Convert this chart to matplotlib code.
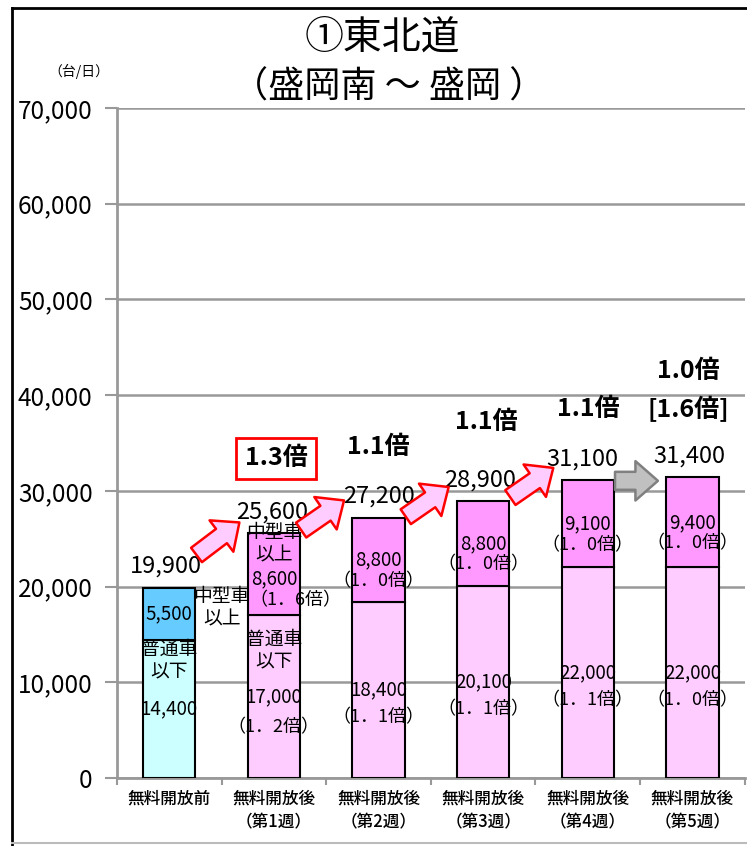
import matplotlib.pyplot as plt
from matplotlib.lines import Line2D

plt.rcParams['font.family'] = ['Noto Sans CJK JP', 'DejaVu Sans']

# data
categories = ['無料開放前', '無料開放後\n（第1週）', '無料開放後\n（第2週）',
              '無料開放後\n（第3週）', '無料開放後\n（第4週）', '無料開放後\n（第5週）']
small_cars = [14400, 17000, 18400, 20100, 22000, 22000]   # 普通車以下
large_cars = [5500, 8600, 8800, 8800, 9100, 9400]         # 中型車以上
totals = [19900, 25600, 27200, 28900, 31100, 31400]
small_ratio = ['', '（1．2倍）', '（1．1倍）', '（1．1倍）', '（1．1倍）', '（1．0倍）']
large_ratio = ['', '（1．6倍）', '（1．0倍）', '（1．0倍）', '（1．0倍）', '（1．0倍）']
total_ratio = ['', '1.3倍', '1.1倍', '1.1倍', '1.1倍', '1.0倍\n[1.6倍]']

small_colors = ['#CCFFFF'] + ['#FFCCFF'] * 5
large_colors = ['#66CCFF'] + ['#FF99FF'] * 5

fig = plt.figure(figsize=(7.47, 8.46), dpi=100)
ax = fig.add_axes([0.1566, 0.0804, 0.8404, 0.7919])

x = list(range(len(categories)))
ax.bar(x, small_cars, width=0.5, color=small_colors, edgecolor='black', linewidth=1.5, zorder=3)
ax.bar(x, large_cars, width=0.5, bottom=small_cars, color=large_colors,
       edgecolor='black', linewidth=1.5, zorder=3)

ax.set_xlim(-0.5, len(categories) - 0.5)
ax.set_ylim(0, 70000)
ax.set_yticks(range(0, 70001, 10000))
ax.set_yticklabels([f'{v:,}' for v in range(0, 70001, 10000)], fontsize=17.5)
ax.set_xticks(x)
ax.set_xticklabels(categories, fontsize=12, linespacing=1.45, fontweight='medium')
ax.tick_params(axis='x', length=0, pad=8)
ax.tick_params(axis='y', length=8.5, width=1.5, color='#999999', pad=9)
ax.set_xticks([i - 0.5 for i in range(len(categories) + 1)], minor=True)
ax.tick_params(axis='x', which='minor', length=5, width=1.5, color='#999999')
ax.grid(axis='y', color='#999999', linewidth=1.8, zorder=0)
for s in ['top', 'right']:
    ax.spines[s].set_visible(False)
for s in ['left', 'bottom']:
    ax.spines[s].set_color('#999999')
    ax.spines[s].set_linewidth(2)

# in-bar labels
fs_num = 13.5
fs_rat = 13
for i in x:
    mid_s = small_cars[i] / 2
    mid_l = small_cars[i] + large_cars[i] / 2
    if i == 0:
        ax.text(i, mid_s + 5100, '普通車\n以下', ha='center', va='center', fontsize=fs_num, linespacing=1.1, zorder=5)
        ax.text(i, mid_s, f'{small_cars[i]:,}', ha='center', va='center', fontsize=fs_num, zorder=5)
        ax.text(i, mid_l, f'{large_cars[i]:,}', ha='center', va='center', fontsize=fs_num, zorder=5)
        ax.text(i + 0.5, mid_l + 650, '中型車\n以上', ha='center', va='center', fontsize=fs_num, linespacing=1.1, zorder=5)
    elif i == 1:
        ax.text(i, mid_s + 4800, '普通車\n以下', ha='center', va='center', fontsize=fs_num, linespacing=1.1, zorder=5)
        ax.text(i, mid_s, f'{small_cars[i]:,}', ha='center', va='center', fontsize=fs_num, zorder=5)
        ax.text(i, mid_s - 3200, small_ratio[i], ha='center', va='center', fontsize=fs_rat, zorder=5)
        ax.text(i, mid_l + 3200, '中型車\n以上', ha='center', va='center', fontsize=fs_num, linespacing=1.1, zorder=5)
        ax.text(i, mid_l - 450, f'{large_cars[i]:,}', ha='center', va='center', fontsize=fs_num, zorder=5)
        ax.text(i + 0.21, mid_l - 2750, large_ratio[i], ha='center', va='center', fontsize=fs_rat, zorder=5)
    else:
        ax.text(i, mid_s, f'{small_cars[i]:,}', ha='center', va='center', fontsize=fs_num, zorder=5)
        ax.text(i, mid_s - 2900, small_ratio[i], ha='center', va='center', fontsize=fs_rat, zorder=5)
        ax.text(i, mid_l, f'{large_cars[i]:,}', ha='center', va='center', fontsize=fs_num, zorder=5)
        ax.text(i, mid_l - 2200, large_ratio[i], ha='center', va='center', fontsize=fs_rat, zorder=5)

# totals and growth ratios
total_dx = [-0.03, -0.02, 0.0, -0.03, -0.05, -0.03]
ratio_y = [0, 33400, 34600, 37200, 38600, 40500]
for i in x:
    ax.text(i + total_dx[i], totals[i] + 1000, f'{totals[i]:,}', ha='center', va='bottom', fontsize=17, zorder=5)
    if i == 0:
        continue
    kw = dict(ha='center', va='center', fontsize=18, fontweight='bold', zorder=5, linespacing=1.6)
    if i == 1:
        kw['bbox'] = dict(boxstyle='square,pad=0.35', fc='white', ec='red', lw=2)
    ax.text(i + [0, 0.02, 0, 0.03, 0, -0.04][i], ratio_y[i], total_ratio[i], **kw)

# arrows between weeks
arrow_y = [(23300, 26700), (25900, 29000), (27300, 30400), (29300, 32400), (31050, 31050)]
for i, (y0, y1) in enumerate(arrow_y):
    last = i == len(arrow_y) - 1
    fc = '#C0C0C0' if last else '#FFCCFF'
    ec = '#808080' if last else 'red'
    ax.annotate('', xy=(i + 0.67, y1), xytext=(i + 0.26, y0),
                arrowprops=dict(arrowstyle='simple,head_length=0.6,head_width=1.05,tail_width=0.48',
                                mutation_scale=27, fc=fc, ec=ec, lw=1.8, shrinkA=0, shrinkB=0),
                zorder=6)

# title and unit
fig.text(0.512, 0.955, '①東北道', ha='center', va='center', fontsize=28)
fig.text(0.52, 0.896, '（盛岡南 ～ 盛岡 ）', ha='center', va='center', fontsize=26)
fig.text(0.105, 0.915, '（台/日）', ha='center', va='center', fontsize=10)

# outer frame
fig.add_artist(Line2D([12 / 747, 12 / 747], [0, 1 - 8 / 846], color='black', lw=2))
fig.add_artist(Line2D([12 / 747, 1], [1 - 8 / 846, 1 - 8 / 846], color='black', lw=2))
fig.add_artist(Line2D([12 / 747, 1], [3 / 846, 3 / 846], color='#BBBBBB', lw=1.5))

fig.savefig('out.png', dpi=100)
